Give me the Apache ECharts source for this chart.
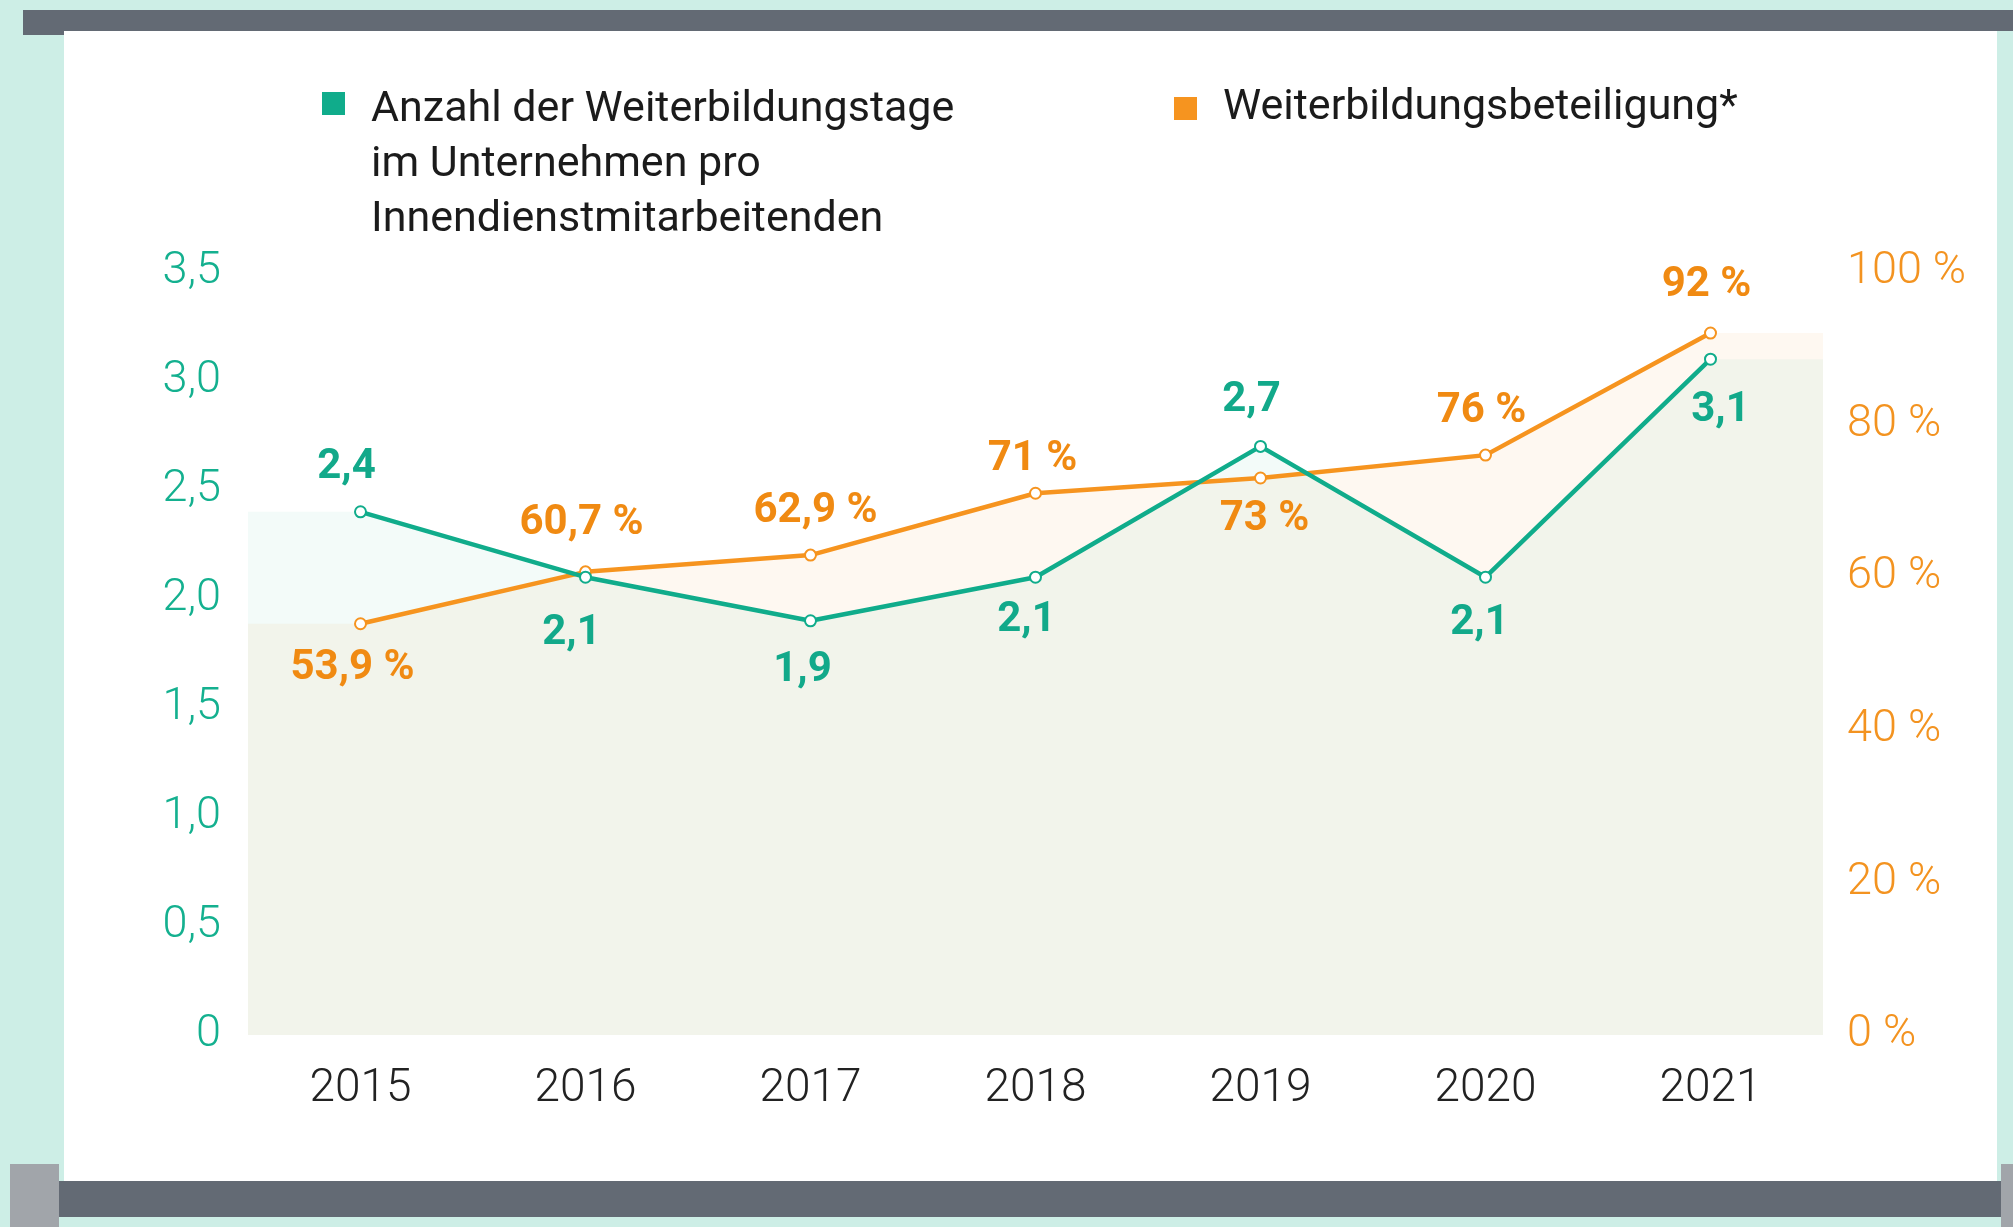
<!DOCTYPE html>
<html>
<head>
<meta charset="utf-8">
<title>Weiterbildung</title>
<script src="https://cdn.jsdelivr.net/npm/echarts@6/dist/echarts.min.js"></script>
<style>
  html, body { margin: 0; padding: 0; background: #cdeee6; }
  #main { width: 2013px; height: 1227px; }
</style>
</head>
<body>
<div id="main"></div>
<script>
// Daten
var years = ['2015', '2016', '2017', '2018', '2019', '2020', '2021'];
var tage = [2.4, 2.1, 1.9, 2.1, 2.7, 2.1, 3.1];
var beteiligung = [53.9, 60.7, 62.9, 71, 73, 76, 92];
var leftTicks = ['0', '0,5', '1,0', '1,5', '2,0', '2,5', '3,0', '3,5'];
var rightTicks = ['0 %', '20 %', '40 %', '60 %', '80 %', '100 %'];
var nameTage = 'Anzahl der Weiterbildungstage\nim Unternehmen pro\nInnendienstmitarbeitenden';
var nameBet = 'Weiterbildungsbeteiligung*';

// Label-Versatz (Pixel) je Punkt
var tageOffsets = [[-14, -44], [-14, 56], [-8, 50], [-9, 43], [-9, -46], [-6, 46], [10, 51]];
var betOffsets = [[-8, 45], [-4, -48], [5, -44], [-3, -34], [4, 41], [-4, -44], [-4, -48]];

var TEAL = '#10ac8b';
var ORANGE = '#f6941f';
var FONT = 'Roboto';

// Legenden-Symbole: Quadrat oben, unsichtbare Punkte spannen die Box auf
var iconTage = 'path://M0,0L0.01,0M0,9H23V32H0ZM44,165L44.01,165';
var iconBet = 'path://M0,0H23V23H0ZM44,23L44.01,23';

function komma(v) { return String(v).replace('.', ','); }

// Flaechen bis an den Rand verlaengern
function edgeData(arr) {
  var d = [[-0.5, arr[0]]];
  arr.forEach(function (v, i) { d.push([i, v]); });
  d.push([arr.length - 0.5, arr[arr.length - 1]]);
  return d;
}

function pointData(arr, offsets, fmt) {
  return arr.map(function (v, i) {
    return {
      value: v,
      label: { show: true, position: 'inside', offset: offsets[i], formatter: fmt(v) }
    };
  });
}

var chart = echarts.init(document.getElementById('main'), null, { renderer: 'canvas' });

var legendText = { fontFamily: FONT, fontSize: 43, color: '#1b1b1b', lineHeight: 55 };

var option = {
  backgroundColor: '#cdeee6',
  animation: false,
  graphic: [
    { type: 'rect', z: -10, shape: { x: 23, y: 10, width: 1990, height: 21 }, style: { fill: '#636a74' } },
    { type: 'rect', z: -10, shape: { x: 23, y: 10, width: 41, height: 25 }, style: { fill: '#636a74' } },
    { type: 'rect', z: -10, shape: { x: 64, y: 31, width: 1933, height: 1150 }, style: { fill: '#ffffff' } },
    { type: 'rect', z: -10, shape: { x: 59, y: 1181, width: 1944, height: 36 }, style: { fill: '#636a74' } },
    { type: 'rect', z: -10, shape: { x: 10, y: 1164, width: 49, height: 63 }, style: { fill: '#a1a5aa' } },
    { type: 'rect', z: -10, shape: { x: 2001, y: 1164, width: 12, height: 63 }, style: { fill: '#a1a5aa' } }
  ],
  legend: [
    {
      data: [{ name: nameTage, icon: iconTage, itemStyle: { color: TEAL, borderWidth: 0 } }],
      left: 317, top: 78,
      itemWidth: 44, itemHeight: 165,
      textStyle: legendText
    },
    {
      data: [{ name: nameBet, icon: iconBet, itemStyle: { color: ORANGE, borderWidth: 0 } }],
      left: 1169, top: 76,
      itemWidth: 44, itemHeight: 23,
      textStyle: legendText
    }
  ],
  grid: { left: 248, right: 190, top: 272, bottom: 192 },
  xAxis: [
    {
      type: 'category',
      data: years,
      boundaryGap: true,
      axisLine: { show: false },
      axisTick: { show: false },
      axisLabel: { fontFamily: FONT, fontWeight: 300, fontSize: 46, color: '#222', margin: 31 }
    },
    { type: 'value', min: -0.5, max: years.length - 0.5, show: false }
  ],
  yAxis: [
    {
      type: 'value', min: 0, max: 3.5, interval: 0.5,
      splitLine: { show: false },
      axisLine: { show: false },
      axisTick: { show: false },
      axisLabel: {
        fontFamily: FONT, fontWeight: 300, fontSize: 45, color: '#14b08f', margin: 27,
        formatter: function (v) { return leftTicks[Math.round(v / 0.5)]; }
      }
    },
    {
      type: 'value', min: 0, max: 100, interval: 20,
      splitLine: { show: false },
      axisLine: { show: false },
      axisTick: { show: false },
      axisLabel: {
        fontFamily: FONT, fontWeight: 300, fontSize: 45, color: '#f39320', margin: 24,
        formatter: function (v) { return rightTicks[Math.round(v / 20)]; }
      }
    }
  ],
  series: [
    {
      name: 'flaeche-bet', type: 'line', xAxisIndex: 1, yAxisIndex: 1,
      data: edgeData(beteiligung), symbol: 'none', silent: true, z: 1,
      lineStyle: { width: 0 },
      areaStyle: { color: 'rgba(247,149,30,0.09)' }
    },
    {
      name: 'flaeche-tage', type: 'line', xAxisIndex: 1, yAxisIndex: 0,
      data: edgeData(tage), symbol: 'none', silent: true, z: 1,
      lineStyle: { width: 0 },
      areaStyle: { color: 'rgba(15,174,140,0.07)' }
    },
    {
      name: nameBet, type: 'line', xAxisIndex: 0, yAxisIndex: 1, z: 3,
      color: ORANGE,
      symbol: 'emptyCircle', symbolSize: 11,
      lineStyle: { width: 4.5, color: ORANGE },
      itemStyle: { color: ORANGE, borderWidth: 3 },
      label: { fontFamily: FONT, fontWeight: 'bold', fontSize: 42, color: '#f08a12' },
      data: pointData(beteiligung, betOffsets, function (v) { return komma(v) + ' %'; })
    },
    {
      name: nameTage, type: 'line', xAxisIndex: 0, yAxisIndex: 0, z: 4,
      color: TEAL,
      symbol: 'emptyCircle', symbolSize: 11,
      lineStyle: { width: 4.5, color: TEAL },
      itemStyle: { color: TEAL, borderWidth: 3 },
      label: { fontFamily: FONT, fontWeight: 'bold', fontSize: 42, color: '#12a98a' },
      data: pointData(tage, tageOffsets, function (v) { return komma(v); })
    }
  ]
};

chart.setOption(option);
</script>
</body>
</html>
